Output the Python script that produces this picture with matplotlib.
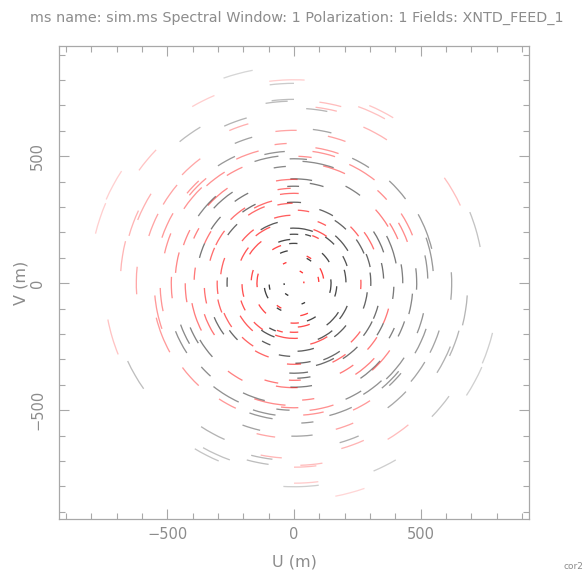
import matplotlib
matplotlib.use("Agg")
import matplotlib.pyplot as plt
from matplotlib.patches import Arc
import numpy as np

title = "ms name: sim.ms Spectral Window: 1 Polarization: 1 Fields: XNTD_FEED_1"
x_label = "U (m)"
y_label = "V (m)"
corner_label = "cor2"
major_ticks = [-500, 0, 500]
minor_ticks = list(range(-900, 1000, 100))

# uv-track segments read in the eastern half (baseline length m, start deg, end deg)
# black-coloured segments
black_r = [801, 689, 610, 490, 481, 543, 411, 398, 433, 551, 748, 307, 560, 217, 295,
           248, 374, 410, 551, 622, 429, 484, 528, 685, 394, 469, 524, 433, 461, 602,
           807, 811, 677, 665, 551, 614, 602, 756, 803, 653, 602, 551, 539, 500, 539,
           457, 524, 516, 319, 193, 157, 197, 220, 110, 162, 146, 169, 205, 220, 300,
           307, 303, 291, 354, 343, 228, 87, 157, 209, 264, 240, 268, 315, 354, 343,
           335, 354, 382, 551, 386, 323, 409, 374]
black_a1 = [-93, 79, 76, 84, 71, 57, 80, 73, 53, 37, 11, 60, 14, 70, 46,
            31, 19, 11, 5, -6, 0, -3, 2, -14, -9, -15, -22, -30, -27, -27,
            -23, -33, -25, -32, -47, -53, -40, -44, -67, -74, -91, -87, -75, -66, -50,
            -55, -46, -58, 85, 85, 85, 70, 44, 52, 31, -15, -18, 1, 18, 23,
            12, -2, -20, 3, -24, -38, -70, -71, -52, -53, -67, -87, -89, -57, -37,
            -75, -93, 87, -30, -32, -69, -92, -88]
black_a2 = [-83, 86, 83, 92, 86, 65, 92, 81, 62, 47, 22, 71, 29, 94, 57,
            49, 33, 27, 19, 4, 10, 7, 12, -4, -2, -5, -13, -24, -19, -18,
            -14, -24, -16, -22, -40, -44, -31, -36, -60, -67, -83, -82, -65, -58, -40,
            -42, -34, -48, 95, 95, 97, 77, 56, 63, 47, 6, -4, 15, 29, 35,
            22, 8, -7, 13, -15, -23, -60, -57, -33, -39, -51, -73, -78, -45, -26,
            -62, -81, 94, -19, -24, -56, -80, -80]

# red-coloured segments
red_r = [787, 720, 698, 740, 760, 673, 594, 540, 524, 500, 476, 516, 492, 724, 288,
         433, 504, 225, 315, 342, 445, 476, 717, 854, 717, 724, 677, 598, 520, 504,
         433, 461, 390, 386, 551, 398, 346, 260, 201, 118, 53, 39, 118, 130, 173,
         248, 323, 264, 98, 461]
red_a1 = [-90, 75, 76, 61, 59, 57, 70, 71, 72, 82, 65, 52, 42, 25, 78,
          31, 22, 55, 36, 23, 23, 20, -59, -79, -88, -90, -74, -74, -86, -83,
          -56, -48, -42, -24, -65, -63, -64, 61, 61, 55, 49, 0, 9, -79, -85,
          -75, -46, -5, 3, -86]
red_a2 = [-83, 82, 83, 70, 67, 66, 77, 81, 82, 88, 76, 65, 48, 35, 87,
          42, 33, 70, 45, 36, 32, 30, -51, -71, -81, -83, -66, -67, -77, -72,
          -43, -35, -33, -15, -57, -54, -54, 69, 69, 65, 65, 10, 30, -65, -69,
          -58, -36, 3, 15, -80]

fig = plt.figure(figsize=(5.86, 5.76), dpi=100)
ax = fig.add_axes([59 / 586, 1 - 519 / 576, 470 / 586, 473 / 576])

frame_col = "#a8a8a8"
text_col = "#8c8c8c"


def alpha_for(r):
    return float(np.clip(0.85 - 0.82 * r / 1000.0, 0.16, 0.9))


def add_arcs(rs, a1s, a2s, color, mirror):
    for r, a1, a2 in zip(rs, a1s, a2s):
        off = 180 if mirror else 0
        ax.add_patch(Arc((0, 0), 2 * r, 2 * r, theta1=a1 + off, theta2=a2 + off,
                         color=color, lw=0.95, alpha=alpha_for(r)))


# measured segments and their conjugates (conjugates drawn in the other colour)
add_arcs(black_r, black_a1, black_a2, "#000000", False)
add_arcs(black_r, black_a1, black_a2, "#ff0000", True)
add_arcs(red_r, red_a1, red_a2, "#ff0000", False)
add_arcs(red_r, red_a1, red_a2, "#000000", True)

ax.set_xlim(-927, 927)
ax.set_ylim(-928, 934)

ax.set_xticks(major_ticks)
ax.set_yticks(major_ticks)
ax.set_xticks(minor_ticks, minor=True)
ax.set_yticks(minor_ticks, minor=True)
ax.tick_params(which="both", direction="in", top=True, right=True,
               color=frame_col, labelcolor=text_col, labelsize=10.5)
ax.tick_params(which="major", length=7, width=0.8, pad=6)
ax.tick_params(axis="y", which="major", pad=10)
ax.tick_params(which="minor", length=4, width=0.8)
for lab in ax.get_yticklabels():
    lab.set_rotation(90)
    lab.set_va("center")
for s in ax.spines.values():
    s.set_color(frame_col)
    s.set_linewidth(0.9)

ax.set_xlabel(x_label, color=text_col, fontsize=11.5, labelpad=9)
ax.set_ylabel(y_label, color=text_col, fontsize=11.5)
ax.yaxis.set_label_coords(-0.064, 0.5)

fig.text(0.507, 0.969, title, ha="center", va="center", color=text_col, fontsize=10.4)
fig.text(0.978, 0.016, corner_label, ha="center", va="center", color=text_col, fontsize=6.5)

fig.savefig("out.png", dpi=100)
